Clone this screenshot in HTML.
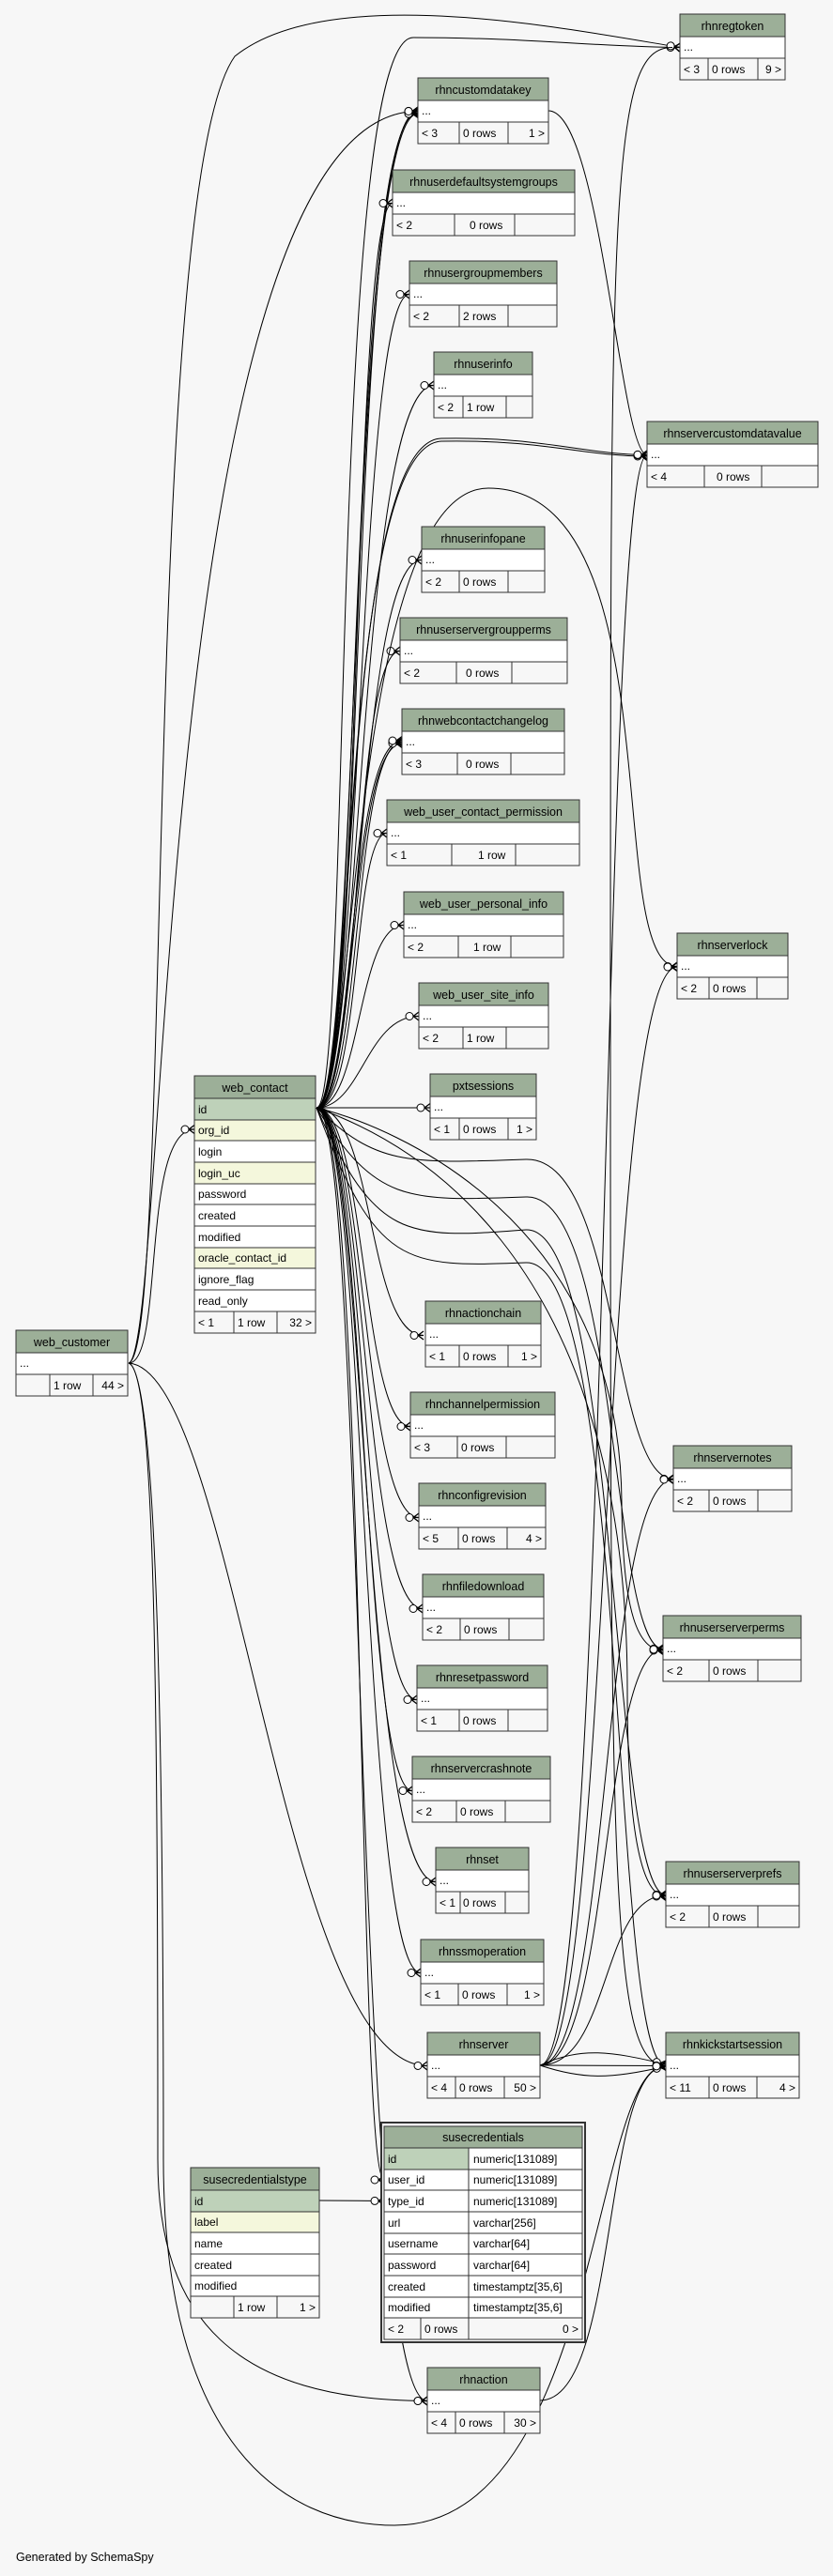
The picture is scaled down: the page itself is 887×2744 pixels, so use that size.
<!DOCTYPE html>
<html><head><meta charset="utf-8"><style>
html,body{margin:0;padding:0;background:#f7f7f7;}
svg{display:block;font-family:"Liberation Sans",sans-serif;}
.h{fill:#9caf98;stroke:#333;stroke-width:1}
.w{fill:#fff;stroke:#333;stroke-width:1}
.f{fill:#f7f7f7;stroke:#333;stroke-width:1}
.g{fill:#bed1b9;stroke:#333;stroke-width:1}
.y{fill:#f4f7dc;stroke:#333;stroke-width:1}
.e{fill:none;stroke:#000;stroke-width:1}
text{font-size:12px;fill:#000}
.c{text-anchor:middle;font-size:12.5px}
.r{text-anchor:end}
.d{stroke:#333;stroke-width:1}
</style></head><body>
<svg width="887" height="2744" viewBox="0 0 887 2744" xmlns="http://www.w3.org/2000/svg">
<defs>
<marker id="m" markerUnits="userSpaceOnUse" markerWidth="16" markerHeight="12" refX="15" refY="6" orient="auto">
<circle cx="5" cy="6" r="4" fill="#fff" stroke="#000" stroke-width="1"/>
<path d="M9 6 L15 1.5 M9 6 L15 10.5 M9 6 L15 6" stroke="#000" stroke-width="1.3" fill="none"/>
</marker>
</defs>

<!-- edges -->
<g class="e" marker-end="url(#m)">
<path class="e" d="M337 1180 C390 1180 370 118 445 118.5"/>
<path class="e" d="M337 1180 C385 1180 368 120 445 120"/>
<path class="e" d="M337 1180 C382 1180 372 122 445 121"/>
<path class="e" d="M337 1180 C385 1180 375 216.5 418 216.5"/>
<path class="e" d="M337 1180 C385 1180 380 313.5 436 313.5"/>
<path class="e" d="M337 1180 C385 1180 380 410.5 462 410.5"/>
<path class="e" d="M337 1180 C385 1180 380 596.5 449 596.5"/>
<path class="e" d="M337 1180 C385 1180 375 693.5 426 693.5"/>
<path class="e" d="M337 1180 C385 1180 375 790.5 428 790.5"/>
<path class="e" d="M337 1180 C380 1180 372 792 428 792"/>
<path class="e" d="M337 1180 C378 1180 370 789 428 789"/>
<path class="e" d="M337 1180 C385 1180 375 887.5 412 887.5"/>
<path class="e" d="M337 1180 C385 1180 380 985.5 430 985.5"/>
<path class="e" d="M337 1180 C385 1180 390 1082.5 446 1082.5"/>
<path class="e" d="M337 1180 L458 1180"/>
<path class="e" d="M337 1180 C400 1180 390 1422.5 451 1422.5"/>
<path class="e" d="M337 1180 C390 1180 385 1519.5 437 1519.5"/>
<path class="e" d="M337 1180 C390 1180 385 1616.5 446 1616.5"/>
<path class="e" d="M337 1180 C390 1180 385 1713.5 450 1713.5"/>
<path class="e" d="M337 1180 C390 1180 385 1810.5 444 1810.5"/>
<path class="e" d="M337 1180 C390 1180 385 1907.5 439 1907.5"/>
<path class="e" d="M337 1180 C390 1180 385 2004.5 464 2004.5"/>
<path class="e" d="M337 1180 C390 1180 385 2101.5 448 2101.5"/>
<path class="e" d="M337 1180 C390 1180 380 2322 409 2322"/>
<path class="e" d="M337 1180 C390 1180 375 2557.5 455 2557.5"/>
<path class="e" d="M337 1180 C380 1180 360 470 470 467 C580 465 620 484 689 484.5"/>
<path class="e" d="M337 1180 C378 1180 360 475 470 470 C580 468 620 486 689 486"/>
<path class="e" d="M337 1180 C375 1180 350 40 440 40 C560 40 640 50 724 50.5"/>
<path class="e" d="M337 1180 C380 1180 370 520 520 520 C720 520 640 1029 721 1029.5"/>
<path class="e" d="M337 1180 C400 1240 430 1240 560 1235 C660 1232 650 1575 717 1575.5"/>
<path class="e" d="M337 1180 C400 1280 430 1280 560 1275 C660 1270 650 1756 706 1756.5"/>
<path class="e" d="M337 1180 C400 1320 430 1320 560 1310 C660 1305 650 2018 709 2018.5"/>
<path class="e" d="M337 1180 C400 1350 430 1350 560 1345 C670 1340 650 2200 709 2200.5"/>
<path class="e" d="M337 1180 C420 1200 660 1300 662 1600 C663 1720 680 1758 706 1758"/>
<path class="e" d="M337 1180 C420 1210 668 1320 668 1800 C668 1960 685 2020 709 2020"/>
<path class="e" d="M137 1452 C175 1452 150 1203 207 1203"/>
<path class="e" d="M137 1452 C185 1440 150 200 250 60 C 350 -20 600 30 724 50.5"/>
<path class="e" d="M137 1452 C180 1440 165 118.5 445 118.5"/>
<path class="e" d="M137 1452 C250 1460 300 2200 455 2200.5"/>
<path class="e" d="M137 1452 C165 1460 168 1800 168 2300 C168 2470 250 2557 455 2557.5"/>
<path class="e" d="M137 1452 C165 1460 174 1800 174 2300 C174 2600 300 2690 420 2690 C640 2690 630 2200 709 2200.5"/>
<path class="e" d="M575 2200 C650 2200 640 484 689 485"/>
<path class="e" d="M575 2200 C650 2200 640 1030 721 1030"/>
<path class="e" d="M575 2200 C650 2200 640 1576 717 1576"/>
<path class="e" d="M575 2200 C650 2200 640 1757 706 1757"/>
<path class="e" d="M575 2200 C650 2200 640 2019 709 2019"/>
<path class="e" d="M575 2200 L709 2200.5"/>
<path class="e" d="M575 2200 C620 2180 650 2185 709 2199"/>
<path class="e" d="M575 2200 C620 2215 650 2215 709 2201"/>
<path class="e" d="M584 118 C640 118 660 484 689 484.5"/>
<path class="e" d="M716 50.5 C650 50 650 200 650 1100 C650 2000 650 2200 709 2200.5"/>
<path class="e" d="M575 2557 C660 2557 640 2200 709 2201"/>
<path class="e" d="M340 2344 L409 2344.5"/>
</g>

<!-- small tables -->
<g transform="translate(724,15)"><rect class="h" width="112" height="24"/><text class="c" x="56" y="17">rhnregtoken</text><rect class="w" y="24" width="112" height="23"/><text x="4" y="39">...</text><rect class="f" y="47" width="112" height="23"/><line class="d" x1="30" y1="47" x2="30" y2="70"/><line class="d" x1="83" y1="47" x2="83" y2="70"/><text x="4" y="63">&lt; 3</text><text x="34" y="63">0 rows</text><text class="r" x="108" y="63">9 &gt;</text></g>

<g transform="translate(445,83)"><rect class="h" width="139" height="24"/><text class="c" x="69.5" y="17">rhncustomdatakey</text><rect class="w" y="24" width="139" height="23"/><text x="4" y="39">...</text><rect class="f" y="47" width="139" height="23"/><line class="d" x1="44" y1="47" x2="44" y2="70"/><line class="d" x1="96" y1="47" x2="96" y2="70"/><text x="4" y="63">&lt; 3</text><text x="48" y="63">0 rows</text><text class="r" x="135" y="63">1 &gt;</text></g>

<g transform="translate(418,181)"><rect class="h" width="194" height="24"/><text class="c" x="97" y="17">rhnuserdefaultsystemgroups</text><rect class="w" y="24" width="194" height="23"/><text x="4" y="39">...</text><rect class="f" y="47" width="194" height="23"/><line class="d" x1="66" y1="47" x2="66" y2="70"/><line class="d" x1="130" y1="47" x2="130" y2="70"/><text x="4" y="63">&lt; 2</text><text x="82" y="63">0 rows</text></g>

<g transform="translate(436,278)"><rect class="h" width="157" height="24"/><text class="c" x="78.5" y="17">rhnusergroupmembers</text><rect class="w" y="24" width="157" height="23"/><text x="4" y="39">...</text><rect class="f" y="47" width="157" height="23"/><line class="d" x1="53" y1="47" x2="53" y2="70"/><line class="d" x1="105" y1="47" x2="105" y2="70"/><text x="4" y="63">&lt; 2</text><text x="57" y="63">2 rows</text></g>

<g transform="translate(462,375)"><rect class="h" width="105" height="24"/><text class="c" x="52.5" y="17">rhnuserinfo</text><rect class="w" y="24" width="105" height="23"/><text x="4" y="39">...</text><rect class="f" y="47" width="105" height="23"/><line class="d" x1="31" y1="47" x2="31" y2="70"/><line class="d" x1="77" y1="47" x2="77" y2="70"/><text x="4" y="63">&lt; 2</text><text x="35" y="63">1 row</text></g>

<g transform="translate(689,449)"><rect class="h" width="182" height="24"/><text class="c" x="91" y="17">rhnservercustomdatavalue</text><rect class="w" y="24" width="182" height="23"/><text x="4" y="39">...</text><rect class="f" y="47" width="182" height="23"/><line class="d" x1="61" y1="47" x2="61" y2="70"/><line class="d" x1="122" y1="47" x2="122" y2="70"/><text x="4" y="63">&lt; 4</text><text x="74" y="63">0 rows</text></g>

<g transform="translate(449,561)"><rect class="h" width="131" height="24"/><text class="c" x="65.5" y="17">rhnuserinfopane</text><rect class="w" y="24" width="131" height="23"/><text x="4" y="39">...</text><rect class="f" y="47" width="131" height="23"/><line class="d" x1="40" y1="47" x2="40" y2="70"/><line class="d" x1="92" y1="47" x2="92" y2="70"/><text x="4" y="63">&lt; 2</text><text x="44" y="63">0 rows</text></g>

<g transform="translate(426,658)"><rect class="h" width="178" height="24"/><text class="c" x="89" y="17">rhnuserservergroupperms</text><rect class="w" y="24" width="178" height="23"/><text x="4" y="39">...</text><rect class="f" y="47" width="178" height="23"/><line class="d" x1="60" y1="47" x2="60" y2="70"/><line class="d" x1="119" y1="47" x2="119" y2="70"/><text x="4" y="63">&lt; 2</text><text x="70" y="63">0 rows</text></g>

<g transform="translate(428,755)"><rect class="h" width="173" height="24"/><text class="c" x="86.5" y="17">rhnwebcontactchangelog</text><rect class="w" y="24" width="173" height="23"/><text x="4" y="39">...</text><rect class="f" y="47" width="173" height="23"/><line class="d" x1="59" y1="47" x2="59" y2="70"/><line class="d" x1="116" y1="47" x2="116" y2="70"/><text x="4" y="63">&lt; 3</text><text x="68" y="63">0 rows</text></g>

<g transform="translate(412,852)"><rect class="h" width="205" height="24"/><text class="c" x="102.5" y="17">web_user_contact_permission</text><rect class="w" y="24" width="205" height="23"/><text x="4" y="39">...</text><rect class="f" y="47" width="205" height="23"/><line class="d" x1="69" y1="47" x2="69" y2="70"/><line class="d" x1="137" y1="47" x2="137" y2="70"/><text x="4" y="63">&lt; 1</text><text x="97" y="63">1 row</text></g>

<g transform="translate(430,950)"><rect class="h" width="170" height="24"/><text class="c" x="85" y="17">web_user_personal_info</text><rect class="w" y="24" width="170" height="23"/><text x="4" y="39">...</text><rect class="f" y="47" width="170" height="23"/><line class="d" x1="58" y1="47" x2="58" y2="70"/><line class="d" x1="114" y1="47" x2="114" y2="70"/><text x="4" y="63">&lt; 2</text><text x="74" y="63">1 row</text></g>

<g transform="translate(446,1047)"><rect class="h" width="138" height="24"/><text class="c" x="69" y="17">web_user_site_info</text><rect class="w" y="24" width="138" height="23"/><text x="4" y="39">...</text><rect class="f" y="47" width="138" height="23"/><line class="d" x1="47" y1="47" x2="47" y2="70"/><line class="d" x1="93" y1="47" x2="93" y2="70"/><text x="4" y="63">&lt; 2</text><text x="51" y="63">1 row</text></g>

<g transform="translate(458,1144)"><rect class="h" width="113" height="24"/><text class="c" x="56.5" y="17">pxtsessions</text><rect class="w" y="24" width="113" height="23"/><text x="4" y="39">...</text><rect class="f" y="47" width="113" height="23"/><line class="d" x1="31" y1="47" x2="31" y2="70"/><line class="d" x1="83" y1="47" x2="83" y2="70"/><text x="4" y="63">&lt; 1</text><text x="35" y="63">0 rows</text><text class="r" x="109" y="63">1 &gt;</text></g>

<g transform="translate(721,994)"><rect class="h" width="118" height="24"/><text class="c" x="59" y="17">rhnserverlock</text><rect class="w" y="24" width="118" height="23"/><text x="4" y="39">...</text><rect class="f" y="47" width="118" height="23"/><line class="d" x1="34" y1="47" x2="34" y2="70"/><line class="d" x1="85" y1="47" x2="85" y2="70"/><text x="4" y="63">&lt; 2</text><text x="38" y="63">0 rows</text></g>

<g transform="translate(453,1386)"><rect class="h" width="123" height="24"/><text class="c" x="61.5" y="17">rhnactionchain</text><rect class="w" y="24" width="123" height="23"/><text x="4" y="39">...</text><rect class="f" y="47" width="123" height="23"/><line class="d" x1="36" y1="47" x2="36" y2="70"/><line class="d" x1="88" y1="47" x2="88" y2="70"/><text x="4" y="63">&lt; 1</text><text x="40" y="63">0 rows</text><text class="r" x="119" y="63">1 &gt;</text></g>

<g transform="translate(437,1483)"><rect class="h" width="154" height="24"/><text class="c" x="77" y="17">rhnchannelpermission</text><rect class="w" y="24" width="154" height="23"/><text x="4" y="39">...</text><rect class="f" y="47" width="154" height="23"/><line class="d" x1="50" y1="47" x2="50" y2="70"/><line class="d" x1="102" y1="47" x2="102" y2="70"/><text x="4" y="63">&lt; 3</text><text x="54" y="63">0 rows</text></g>

<g transform="translate(446,1580)"><rect class="h" width="135" height="24"/><text class="c" x="67.5" y="17">rhnconfigrevision</text><rect class="w" y="24" width="135" height="23"/><text x="4" y="39">...</text><rect class="f" y="47" width="135" height="23"/><line class="d" x1="42" y1="47" x2="42" y2="70"/><line class="d" x1="94" y1="47" x2="94" y2="70"/><text x="4" y="63">&lt; 5</text><text x="46" y="63">0 rows</text><text class="r" x="131" y="63">4 &gt;</text></g>

<g transform="translate(450,1677)"><rect class="h" width="129" height="24"/><text class="c" x="64.5" y="17">rhnfiledownload</text><rect class="w" y="24" width="129" height="23"/><text x="4" y="39">...</text><rect class="f" y="47" width="129" height="23"/><line class="d" x1="40" y1="47" x2="40" y2="70"/><line class="d" x1="92" y1="47" x2="92" y2="70"/><text x="4" y="63">&lt; 2</text><text x="44" y="63">0 rows</text></g>

<g transform="translate(444,1774)"><rect class="h" width="139" height="24"/><text class="c" x="69.5" y="17">rhnresetpassword</text><rect class="w" y="24" width="139" height="23"/><text x="4" y="39">...</text><rect class="f" y="47" width="139" height="23"/><line class="d" x1="45" y1="47" x2="45" y2="70"/><line class="d" x1="97" y1="47" x2="97" y2="70"/><text x="4" y="63">&lt; 1</text><text x="49" y="63">0 rows</text></g>

<g transform="translate(439,1871)"><rect class="h" width="147" height="24"/><text class="c" x="73.5" y="17">rhnservercrashnote</text><rect class="w" y="24" width="147" height="23"/><text x="4" y="39">...</text><rect class="f" y="47" width="147" height="23"/><line class="d" x1="47" y1="47" x2="47" y2="70"/><line class="d" x1="99" y1="47" x2="99" y2="70"/><text x="4" y="63">&lt; 2</text><text x="51" y="63">0 rows</text></g>

<g transform="translate(464,1968)"><rect class="h" width="99" height="24"/><text class="c" x="49.5" y="17">rhnset</text><rect class="w" y="24" width="99" height="23"/><text x="4" y="39">...</text><rect class="f" y="47" width="99" height="23"/><line class="d" x1="26" y1="47" x2="26" y2="70"/><line class="d" x1="74" y1="47" x2="74" y2="70"/><text x="4" y="63">&lt; 1</text><text x="29" y="63">0 rows</text></g>

<g transform="translate(448,2066)"><rect class="h" width="131" height="24"/><text class="c" x="65.5" y="17">rhnssmoperation</text><rect class="w" y="24" width="131" height="23"/><text x="4" y="39">...</text><rect class="f" y="47" width="131" height="23"/><line class="d" x1="40" y1="47" x2="40" y2="70"/><line class="d" x1="92" y1="47" x2="92" y2="70"/><text x="4" y="63">&lt; 1</text><text x="44" y="63">0 rows</text><text class="r" x="127" y="63">1 &gt;</text></g>

<g transform="translate(455,2165)"><rect class="h" width="120" height="24"/><text class="c" x="60" y="17">rhnserver</text><rect class="w" y="24" width="120" height="23"/><text x="4" y="39">...</text><rect class="f" y="47" width="120" height="23"/><line class="d" x1="30" y1="47" x2="30" y2="70"/><line class="d" x1="82" y1="47" x2="82" y2="70"/><text x="4" y="63">&lt; 4</text><text x="34" y="63">0 rows</text><text class="r" x="116" y="63">50 &gt;</text></g>

<g transform="translate(455,2522)"><rect class="h" width="120" height="24"/><text class="c" x="60" y="17">rhnaction</text><rect class="w" y="24" width="120" height="23"/><text x="4" y="39">...</text><rect class="f" y="47" width="120" height="23"/><line class="d" x1="30" y1="47" x2="30" y2="70"/><line class="d" x1="82" y1="47" x2="82" y2="70"/><text x="4" y="63">&lt; 4</text><text x="34" y="63">0 rows</text><text class="r" x="116" y="63">30 &gt;</text></g>

<g transform="translate(709,2165)"><rect class="h" width="142" height="24"/><text class="c" x="71" y="17">rhnkickstartsession</text><rect class="w" y="24" width="142" height="23"/><text x="4" y="39">...</text><rect class="f" y="47" width="142" height="23"/><line class="d" x1="46" y1="47" x2="46" y2="70"/><line class="d" x1="97" y1="47" x2="97" y2="70"/><text x="4" y="63">&lt; 11</text><text x="50" y="63">0 rows</text><text class="r" x="138" y="63">4 &gt;</text></g>

<g transform="translate(717,1540)"><rect class="h" width="126" height="24"/><text class="c" x="63" y="17">rhnservernotes</text><rect class="w" y="24" width="126" height="23"/><text x="4" y="39">...</text><rect class="f" y="47" width="126" height="23"/><line class="d" x1="38" y1="47" x2="38" y2="70"/><line class="d" x1="90" y1="47" x2="90" y2="70"/><text x="4" y="63">&lt; 2</text><text x="42" y="63">0 rows</text></g>

<g transform="translate(706,1721)"><rect class="h" width="147" height="24"/><text class="c" x="73.5" y="17">rhnuserserverperms</text><rect class="w" y="24" width="147" height="23"/><text x="4" y="39">...</text><rect class="f" y="47" width="147" height="23"/><line class="d" x1="49" y1="47" x2="49" y2="70"/><line class="d" x1="101" y1="47" x2="101" y2="70"/><text x="4" y="63">&lt; 2</text><text x="53" y="63">0 rows</text></g>

<g transform="translate(709,1983)"><rect class="h" width="142" height="24"/><text class="c" x="71" y="17">rhnuserserverprefs</text><rect class="w" y="24" width="142" height="23"/><text x="4" y="39">...</text><rect class="f" y="47" width="142" height="23"/><line class="d" x1="46" y1="47" x2="46" y2="70"/><line class="d" x1="98" y1="47" x2="98" y2="70"/><text x="4" y="63">&lt; 2</text><text x="50" y="63">0 rows</text></g>

<g transform="translate(17,1417)"><rect class="h" width="119" height="24"/><text class="c" x="59.5" y="17">web_customer</text><rect class="w" y="24" width="119" height="23"/><text x="4" y="39">...</text><rect class="f" y="47" width="119" height="23"/><line class="d" x1="36" y1="47" x2="36" y2="70"/><line class="d" x1="82" y1="47" x2="82" y2="70"/><text x="40" y="63">1 row</text><text class="r" x="115" y="63">44 &gt;</text></g>

<!-- web_contact -->
<g transform="translate(207,1146)">
<rect class="h" width="129" height="24"/><text class="c" x="64.5" y="17">web_contact</text>
<rect class="g" y="24" width="129" height="23"/><text x="4" y="40">id</text>
<rect class="y" y="47" width="129" height="22"/><text x="4" y="62">org_id</text>
<rect class="w" y="69" width="129" height="23"/><text x="4" y="85">login</text>
<rect class="y" y="92" width="129" height="23"/><text x="4" y="108">login_uc</text>
<rect class="w" y="115" width="129" height="22"/><text x="4" y="130">password</text>
<rect class="w" y="137" width="129" height="23"/><text x="4" y="153">created</text>
<rect class="w" y="160" width="129" height="23"/><text x="4" y="176">modified</text>
<rect class="y" y="183" width="129" height="22"/><text x="4" y="198">oracle_contact_id</text>
<rect class="w" y="205" width="129" height="23"/><text x="4" y="221">ignore_flag</text>
<rect class="w" y="228" width="129" height="23"/><text x="4" y="244">read_only</text>
<rect class="f" y="251" width="129" height="23"/><line class="d" x1="42" y1="251" x2="42" y2="274"/><line class="d" x1="88" y1="251" x2="88" y2="274"/>
<text x="4" y="267">&lt; 1</text><text x="46" y="267">1 row</text><text class="r" x="125" y="267">32 &gt;</text>
</g>

<!-- susecredentialstype -->
<g transform="translate(203,2309)">
<rect class="h" width="137" height="24"/><text class="c" x="68.5" y="17">susecredentialstype</text>
<rect class="g" y="24" width="137" height="23"/><text x="4" y="40">id</text>
<rect class="y" y="47" width="137" height="22"/><text x="4" y="62">label</text>
<rect class="w" y="69" width="137" height="23"/><text x="4" y="85">name</text>
<rect class="w" y="92" width="137" height="23"/><text x="4" y="108">created</text>
<rect class="w" y="115" width="137" height="22"/><text x="4" y="130">modified</text>
<rect class="f" y="137" width="137" height="23"/><line class="d" x1="46" y1="137" x2="46" y2="160"/><line class="d" x1="92" y1="137" x2="92" y2="160"/>
<text x="50" y="153">1 row</text><text class="r" x="133" y="153">1 &gt;</text>
</g>

<!-- susecredentials -->
<rect x="406" y="2261" width="217" height="234" fill="#f7f7f7" stroke="#333" stroke-width="2"/>
<g transform="translate(409,2265)">
<rect class="h" width="211" height="23"/><text class="c" x="105.5" y="16">susecredentials</text>
<rect class="g" y="23" width="90" height="23"/><rect class="w" x="90" y="23" width="121" height="23"/><text x="4" y="39">id</text><text x="95" y="39">numeric[131089]</text>
<rect class="w" y="46" width="90" height="22"/><rect class="w" x="90" y="46" width="121" height="22"/><text x="4" y="61">user_id</text><text x="95" y="61">numeric[131089]</text>
<rect class="w" y="68" width="90" height="23"/><rect class="w" x="90" y="68" width="121" height="23"/><text x="4" y="84">type_id</text><text x="95" y="84">numeric[131089]</text>
<rect class="w" y="91" width="90" height="23"/><rect class="w" x="90" y="91" width="121" height="23"/><text x="4" y="107">url</text><text x="95" y="107">varchar[256]</text>
<rect class="w" y="114" width="90" height="22"/><rect class="w" x="90" y="114" width="121" height="22"/><text x="4" y="129">username</text><text x="95" y="129">varchar[64]</text>
<rect class="w" y="136" width="90" height="23"/><rect class="w" x="90" y="136" width="121" height="23"/><text x="4" y="152">password</text><text x="95" y="152">varchar[64]</text>
<rect class="w" y="159" width="90" height="23"/><rect class="w" x="90" y="159" width="121" height="23"/><text x="4" y="175">created</text><text x="95" y="175">timestamptz[35,6]</text>
<rect class="w" y="182" width="90" height="22"/><rect class="w" x="90" y="182" width="121" height="22"/><text x="4" y="197">modified</text><text x="95" y="197">timestamptz[35,6]</text>
<rect class="f" y="204" width="211" height="23"/><line class="d" x1="39" y1="204" x2="39" y2="227"/><line class="d" x1="90" y1="204" x2="90" y2="227"/>
<text x="4" y="220">&lt; 2</text><text x="43" y="220">0 rows</text><text class="r" x="207" y="220">0 &gt;</text>
</g>

<text x="17" y="2728" style="font-size:12.5px">Generated by SchemaSpy</text>
</svg>
</body></html>
